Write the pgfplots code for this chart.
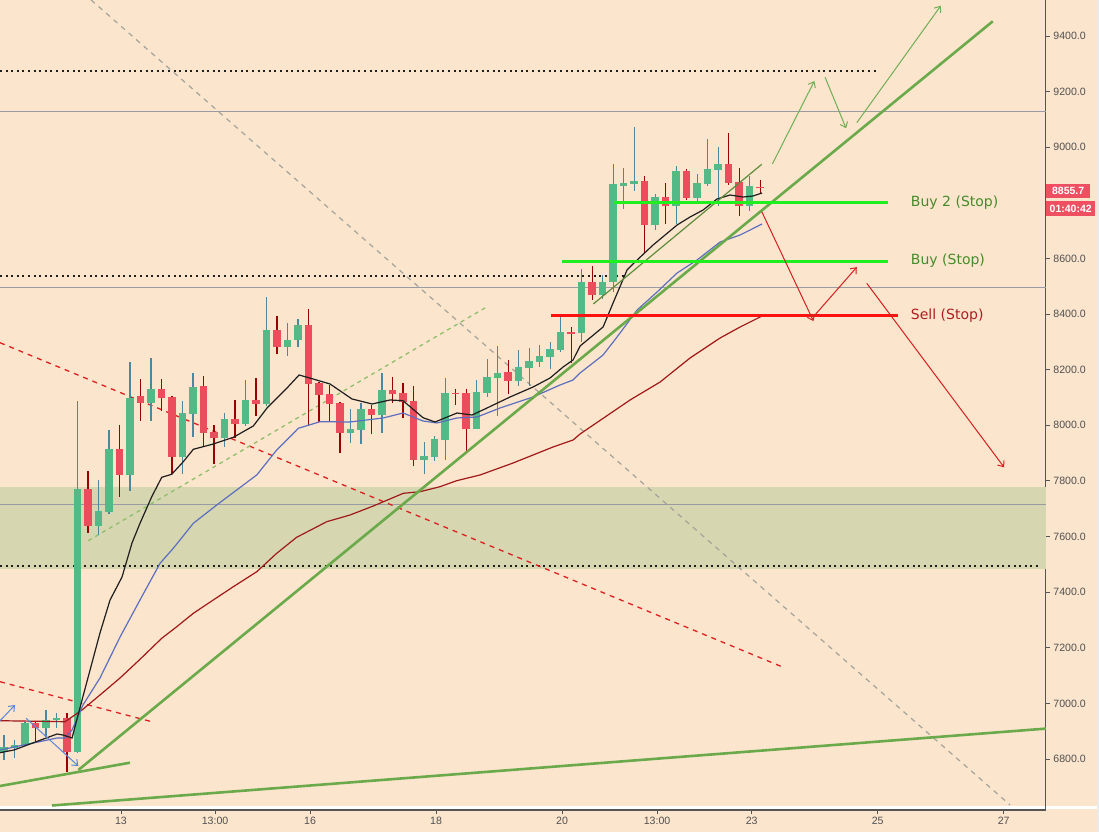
\documentclass[border=0pt]{standalone}
\usepackage{fontspec}
\setmainfont{Liberation Sans}
\newfontfamily\labfont{DejaVu Sans}
\usepackage{pgfplots}
\usepackage{pgfplotstable}
\pgfplotsset{compat=1.18}
\usetikzlibrary{arrows.meta}

\definecolor{bgc}{HTML}{FCE5CD}
\definecolor{zonec}{HTML}{D6D6B1}
\definecolor{upc}{HTML}{53B987}
\definecolor{upwick}{HTML}{4A88A0}
\definecolor{dnc}{HTML}{EB4D5C}
\definecolor{dnwick}{HTML}{990000}
\definecolor{fastc}{HTML}{1E1E1E}
\definecolor{midc}{HTML}{5C6EC0}
\definecolor{slowc}{HTML}{A01818}
\definecolor{trend}{HTML}{6AAA4B}
\definecolor{channel}{HTML}{5E8C3A}
\definecolor{lgdash}{HTML}{8EBF6A}
\definecolor{greydash}{HTML}{A3A39A}
\definecolor{reddash}{HTML}{DD2020}
\definecolor{arrowgreen}{HTML}{70AD55}
\definecolor{arrowred}{HTML}{D42020}
\definecolor{arrowblue}{HTML}{5A86E0}
\definecolor{hline}{HTML}{9A9AA2}
\definecolor{buyline}{HTML}{1EF01E}
\definecolor{sellline}{HTML}{FF1212}
\definecolor{buytext}{HTML}{468A2A}
\definecolor{selltext}{HTML}{AE1E1E}
\definecolor{tickgrey}{HTML}{505050}
\definecolor{axisgrey}{HTML}{555555}
\definecolor{tagred}{HTML}{EE5062}

% 4h candles, k = bar index
\pgfplotstableread{
k o h l c
0 6826 6886 6796 6844
1 6841 6868 6804 6850
2 6850 6932 6848 6928
4 6913 6977 6880 6942
5 6939 6965 6911 6949
7 6826 8088 6822 7771
9 7639 7804 7606 7692
10 7690 7983 7680 7915
12 7823 8228 7765 8097
14 8080 8242 8016 8131
17 7887 8088 7825 8045
18 8041 8188 7959 8138
21 7956 8045 7923 8023
23 8006 8163 7999 8091
25 8078 8462 8070 8343
27 8280 8369 8250 8307
28 8305 8383 8280 8361
33 7973 8059 7938 7987
34 7984 8081 7934 8059
36 8038 8188 7973 8127
40 7876 7940 7826 7890
41 7887 7962 7873 7951
42 7948 8170 7876 8117
45 7988 8163 7985 8120
46 8117 8239 8103 8174
47 8171 8286 8035 8188
49 8160 8271 8142 8210
50 8206 8278 8142 8232
51 8228 8289 8210 8250
52 8246 8300 8203 8275
53 8271 8394 8265 8336
55 8331 8563 8300 8516
57 8467 8541 8455 8516
58 8514 8940 8481 8868
59 8862 8926 8778 8872
60 8869 9073 8844 8879
62 8722 8832 8704 8822
64 8790 8933 8725 8915
66 8818 8904 8805 8872
67 8868 9030 8862 8922
68 8919 9001 8789 8940
71 8790 8897 8771 8861
}\upbars

\pgfplotstableread{
k o h l c
3 6928 6932 6862 6913
6 6949 6964 6754 6826
8 7771 7837 7614 7639
11 7915 8001 7743 7821
13 8106 8167 8016 8081
15 8131 8167 8053 8099
16 8102 8106 7825 7887
19 8142 8177 7923 7973
20 7976 8001 7861 7956
22 8023 8091 7956 8006
24 8091 8170 8034 8077
26 8343 8394 8258 8280
29 8361 8419 8001 8149
30 8152 8157 8013 8109
31 8113 8145 8016 8078
32 8081 8084 7902 7973
35 8059 8073 7970 8038
37 8127 8174 8081 8113
38 8117 8152 8027 8085
39 8088 8142 7852 7876
43 8117 8131 8074 8113
44 8117 8131 7909 7988
48 8192 8235 8113 8160
54 8336 8354 8224 8330
56 8516 8573 8451 8467
61 8879 8897 8621 8722
63 8822 8872 8725 8790
65 8915 8922 8809 8818
69 8940 9052 8865 8872
70 8876 8926 8753 8790
72 8858 8883 8837 8853
}\downbars

\pgfplotstableread{
k v
-0.38 6822.7
0.95 6832.4
5.05 6889.9
5.62 6886.3
6.48 6875.5
7.43 7012.2
9.14 7253.1
10.10 7371.8
11.24 7454.5
12.19 7576.7
12.95 7647.6
14.07 7743.2
15.02 7813.0
15.97 7823.8
17.05 7868.0
18.03 7913.7
19.93 7932.7
21.84 7956.8
23.74 7997.5
25.05 8062.2
26.95 8134.1
28.10 8180.9
29.43 8166.5
31.05 8148.5
33.14 8094.6
35.05 8076.6
36.76 8091.0
38.00 8088.4
39.90 8027.3
41.05 8011.9
43.14 8044.2
44.57 8037.0
46.00 8062.2
48.19 8101.8
50.38 8137.7
52.00 8170.1
53.24 8209.6
54.19 8234.8
54.86 8285.1
57.05 8353.5
58.00 8439.8
59.33 8558.4
60.29 8594.4
61.81 8648.3
64.10 8720.3
65.33 8749.0
66.57 8774.2
67.90 8813.8
69.14 8828.1
70.38 8820.9
71.33 8824.5
72.19 8835.3
}\fastma

\pgfplotstableread{
k v
-0.38 6832.4
5.05 6875.5
5.81 6875.5
6.48 6904.3
7.52 6994.2
9.14 7091.3
11.05 7238.7
12.95 7371.8
14.86 7503.7
16.12 7557.7
18.03 7647.6
20.26 7713.4
22.16 7767.3
24.07 7821.3
25.97 7911.2
28.03 7989.2
30.10 8013.0
32.95 8011.9
36.10 8026.3
38.00 8044.2
39.90 8015.5
41.24 8008.3
43.14 8026.3
45.05 8029.8
47.24 8062.2
50.38 8101.8
52.95 8144.9
54.19 8162.9
54.86 8188.1
57.05 8252.8
58.38 8317.5
60.29 8414.6
62.19 8479.3
64.10 8547.7
66.00 8594.4
68.19 8659.1
70.10 8684.3
72.19 8723.9
}\midma

\pgfplotstableread{
k v
-0.38 6937.7
5.81 6934.1
7.43 6976.2
9.14 7030.1
11.05 7091.3
12.95 7158.5
15.02 7234.0
16.45 7275.7
18.03 7323.9
19.93 7371.8
21.84 7419.6
24.07 7473.5
25.97 7539.7
27.87 7597.2
30.73 7653.3
32.95 7677.4
35.17 7709.8
38.03 7755.5
39.62 7761.2
41.52 7779.2
43.11 7800.8
45.33 7821.3
48.48 7864.4
52.29 7922.0
54.19 7947.1
54.86 7968.7
59.62 8091.0
62.48 8155.7
65.33 8242.0
68.19 8313.9
70.10 8353.5
72.19 8393.0
}\slowma

\pgfplotsset{
  candle/.style 2 args={draw=none, no markers, forget plot,
    error bars/.cd, y dir=both, y explicit, error mark=none,
    error bar style={line width=#1, draw=#2}},
}

\begin{document}
\begin{tikzpicture}
\fill[bgc] (0pt,-22pt) rectangle (1099pt,810pt);
\fill[white] (0pt,1pt) rectangle (1097pt,4pt);
\fill[black!8!white] (1097pt,-22pt) rectangle (1099pt,810pt);
\begin{axis}[
  at={(0pt,0pt)}, anchor=south west,
  scale only axis, width=1045.7pt, height=810pt,
  xmin=-0.381, xmax=99.21, ymin=6616.6, ymax=9529.4,
  clip=false,
  axis x line*=bottom, axis y line*=right,
  axis line style={-, draw=axisgrey, line width=1.1pt},
  tick align=outside, major tick length=4pt,
  tick style={draw=axisgrey, line width=0.9pt},
  xtick={11.14,20.1,29.14,41.14,53.14,62.19,71.2,83.2,95.2},
  xticklabels={13,13:00,16,18,20,13:00,23,25,27},
  ytick={6800,7000,7200,7400,7600,7800,8000,8200,8400,8600,9000,9200,9400},
  yticklabels={6800.0,7000.0,7200.0,7400.0,7600.0,7800.0,8000.0,8200.0,8400.0,8600.0,9000.0,9200.0,9400.0},
  ticklabel style={font=\fontsize{10.6}{12}\selectfont, text=tickgrey},
]
% support zone
\addplot[draw=none, fill=zonec] coordinates {(-0.381,7482.2) (99.21,7482.2) (99.21,7779.2) (-0.381,7779.2)} -- cycle;
% horizontal levels
\addplot[hline, line width=1pt] coordinates {(-0.381,9126.6) (99.21,9126.6)};
\addplot[hline, line width=1pt] coordinates {(-0.381,8496.2) (99.21,8496.2)};
\addplot[hline, line width=1pt] coordinates {(-0.381,7715.9) (99.21,7715.9)};
\addplot[fastc, line width=2pt, dash pattern=on 2pt off 3.6pt] coordinates {(-0.381,9275.1) (83.11,9275.1)};
\addplot[fastc, line width=2pt, dash pattern=on 2pt off 3.6pt] coordinates {(-0.381,8536.9) (59.3,8536.9)};
\addplot[fastc, line width=2pt, dash pattern=on 2pt off 3.6pt] coordinates {(-0.381,7495.1) (98.7,7495.1)};
% dashed trend lines
\addplot[greydash, line width=1.2pt, dash pattern=on 5pt off 5pt] coordinates {(8.29,9529.4) (95.81,6634.6)};
\addplot[reddash, line width=1.3pt, dash pattern=on 5pt off 5pt] coordinates {(-0.381,8297.0) (74.07,7131.9)};
\addplot[reddash, line width=1.3pt, dash pattern=on 5pt off 5pt] coordinates {(-0.381,7078.0) (14.07,6934.1)};
\addplot[lgdash, line width=1.3pt, dash pattern=on 4pt off 4pt] coordinates {(8.03,7585.0) (46.12,8429.0)};
% candles: wicks, then bodies
\addplot[candle={1.1pt}{upwick}]
  table[x=k, y expr=(\thisrow{h}+\thisrow{l})/2, y error expr=(\thisrow{h}-\thisrow{l})/2]{\upbars};
\addplot[candle={1.1pt}{dnwick}]
  table[x=k, y expr=(\thisrow{h}+\thisrow{l})/2, y error expr=(\thisrow{h}-\thisrow{l})/2]{\downbars};
\addplot[candle={7.3pt}{upc}]
  table[x=k, y expr=(\thisrow{o}+\thisrow{c})/2, y error expr={max(abs(\thisrow{c}-\thisrow{o})/2,2.5)}]{\upbars};
\addplot[candle={7.3pt}{dnc}]
  table[x=k, y expr=(\thisrow{o}+\thisrow{c})/2, y error expr={max(abs(\thisrow{c}-\thisrow{o})/2,2.5)}]{\downbars};
% moving averages
\addplot[slowc, line width=1.2pt] table[x=k, y=v]{\slowma};
\addplot[midc, line width=1.2pt] table[x=k, y=v]{\midma};
\addplot[fastc, line width=1.2pt] table[x=k, y=v]{\fastma};
% solid trend lines
\addplot[trend, line width=2.6pt] coordinates {(7.08,6760.4) (94.16,9452.8)};
\addplot[trend, line width=2.6pt] coordinates {(-0.381,6702.9) (12.0,6786.7)};
\addplot[trend, line width=2.6pt] coordinates {(4.57,6632.8) (99.21,6909.3)};
\addplot[channel, line width=1.2pt] coordinates {(56.12,8436.2) (72.16,8938.6)};
% stop levels
\addplot[buyline, line width=3pt] coordinates {(58.1,8801) (84.16,8801)};
\addplot[buyline, line width=3pt] coordinates {(53.11,8589) (84.16,8589)};
\addplot[sellline, line width=3pt] coordinates {(52.1,8396) (85.14,8396)};
% scenario arrows
\addplot[arrowgreen, line width=1pt, -{Straight Barb[length=5pt,width=8pt]}] coordinates {(73.17,8939.6) (77.17,9238.1)};
\addplot[arrowgreen, line width=1pt, -{Straight Barb[length=5pt,width=8pt]}] coordinates {(78.19,9251.4) (80.19,9068.0)};
\addplot[arrowgreen, line width=1pt, -{Straight Barb[length=5pt,width=8pt]}] coordinates {(81.21,9088.1) (89.21,9508.8)};
\addplot[arrowred, line width=1pt, -{Straight Barb[length=5pt,width=8pt]}] coordinates {(72.16,8768.1) (77.08,8375.0)};
\addplot[arrowred, line width=1pt, -{Straight Barb[length=5pt,width=8pt]}] coordinates {(77.24,8397.4) (81.21,8568.8)};
\addplot[arrowred, line width=1pt, -{Straight Barb[length=5pt,width=8pt]}] coordinates {(82.16,8510.6) (95.24,7848.9)};
\addplot[arrowblue, line width=1pt, -{Straight Barb[length=5pt,width=8pt]}] coordinates {(-0.381,6937.7) (1.05,6994.2)};
\addplot[arrowblue, line width=1pt, -{Straight Barb[length=5pt,width=8pt]}] coordinates {(2.10,6946.4) (7.08,6774.8)};
% labels
\node[anchor=west, inner sep=0pt, text=buytext, font=\labfont\fontsize{14}{16}\selectfont] at (axis cs:86.35,8801.8) {Buy 2 (Stop)};
\node[anchor=west, inner sep=0pt, text=buytext, font=\labfont\fontsize{14}{16}\selectfont] at (axis cs:86.35,8591.9) {Buy (Stop)};
\node[anchor=west, inner sep=0pt, text=selltext, font=\labfont\fontsize{14}{16}\selectfont] at (axis cs:86.35,8393.0) {Sell (Stop)};
\node[anchor=west, fill=tagred, text=white, inner sep=0pt, minimum width=44.3pt, minimum height=14pt, font=\bfseries\fontsize{10.5}{12}\selectfont] at (axis cs:99.21,8842.5) {8855.7};
\node[anchor=west, fill=tagred, text=white, inner sep=0pt, minimum width=49.3pt, minimum height=15pt, font=\bfseries\fontsize{10.5}{12}\selectfont] at (axis cs:99.21,8778.2) {01:40:42};
\end{axis}
\pgfresetboundingbox
\useasboundingbox (0pt,-22pt) rectangle (1099pt,810pt);
\end{tikzpicture}
\end{document}
